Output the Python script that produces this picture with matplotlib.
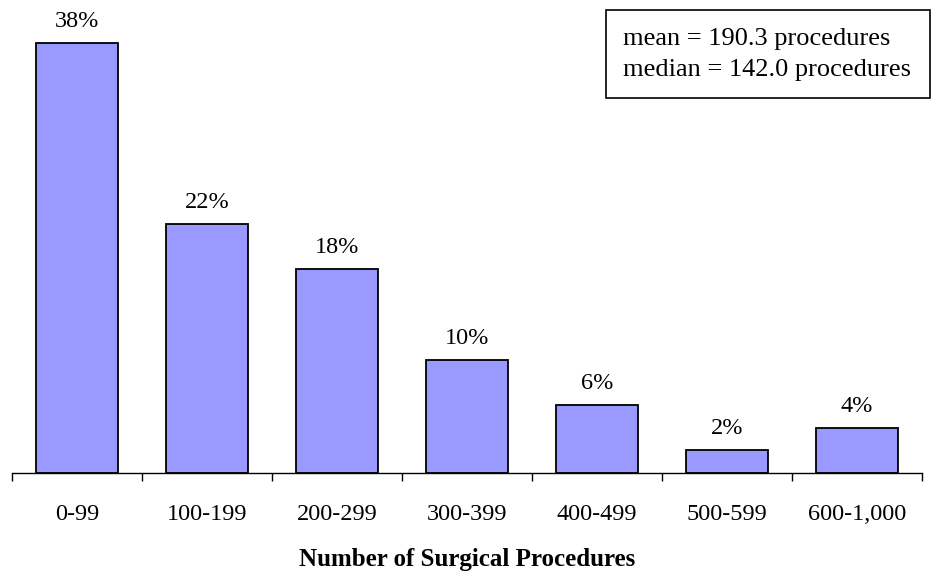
import matplotlib.pyplot as plt
import numpy as np
from matplotlib.patches import Rectangle

categories = ['0-99', '100-199', '200-299', '300-399', '400-499', '500-599', '600-1,000']
percent = [38, 22, 18, 10, 6, 2, 4]
labels = ['38%', '22%', '18%', '10%', '6%', '2%', '4%']
stats_lines = ['mean = 190.3 procedures', 'median = 142.0 procedures']

plt.rcParams['font.family'] = ['Liberation Serif', 'DejaVu Serif']
fs = 17.5

fig = plt.figure(figsize=(9.32, 5.74), dpi=100)
ax = fig.add_axes([12 / 932, 101 / 574, 910 / 932, 473 / 574])

x = np.arange(len(categories))
ax.bar(x, percent, width=0.63, color='#9999ff', edgecolor='black', linewidth=1.3)

for xi, v, lab in zip(x, percent, labels):
    ax.annotate(lab, (xi, v), xytext=(0, 8), textcoords='offset points',
                ha='center', va='bottom', fontsize=fs)

ax.set_xlim(-0.5, len(categories) - 0.5)
ax.set_ylim(0, 41.8)

for s in ['top', 'right', 'left']:
    ax.spines[s].set_visible(False)
ax.spines['bottom'].set_linewidth(1.0)
ax.set_yticks([])

ax.set_xticks(x)
ax.set_xticklabels(categories, fontsize=fs)
ax.tick_params(axis='x', which='major', length=0, pad=22)
ax.set_xticks(np.arange(-0.5, len(categories)), minor=True)
ax.tick_params(axis='x', which='minor', length=6, width=1.0, direction='out')

ax.set_xlabel('Number of Surgical Procedures', fontsize=18, fontweight='bold', labelpad=17)

# stats box
fig.patches.append(Rectangle((606 / 932, 1 - 98 / 574), 324 / 932, 88 / 574,
                             transform=fig.transFigure, facecolor='white',
                             edgecolor='black', linewidth=1.2))
for i, line in enumerate(stats_lines):
    fig.text(623 / 932, 1 - (39 + 31 * i) / 574, line, fontsize=19, ha='left', va='center')

fig.savefig('out.png', dpi=100, facecolor='white')
